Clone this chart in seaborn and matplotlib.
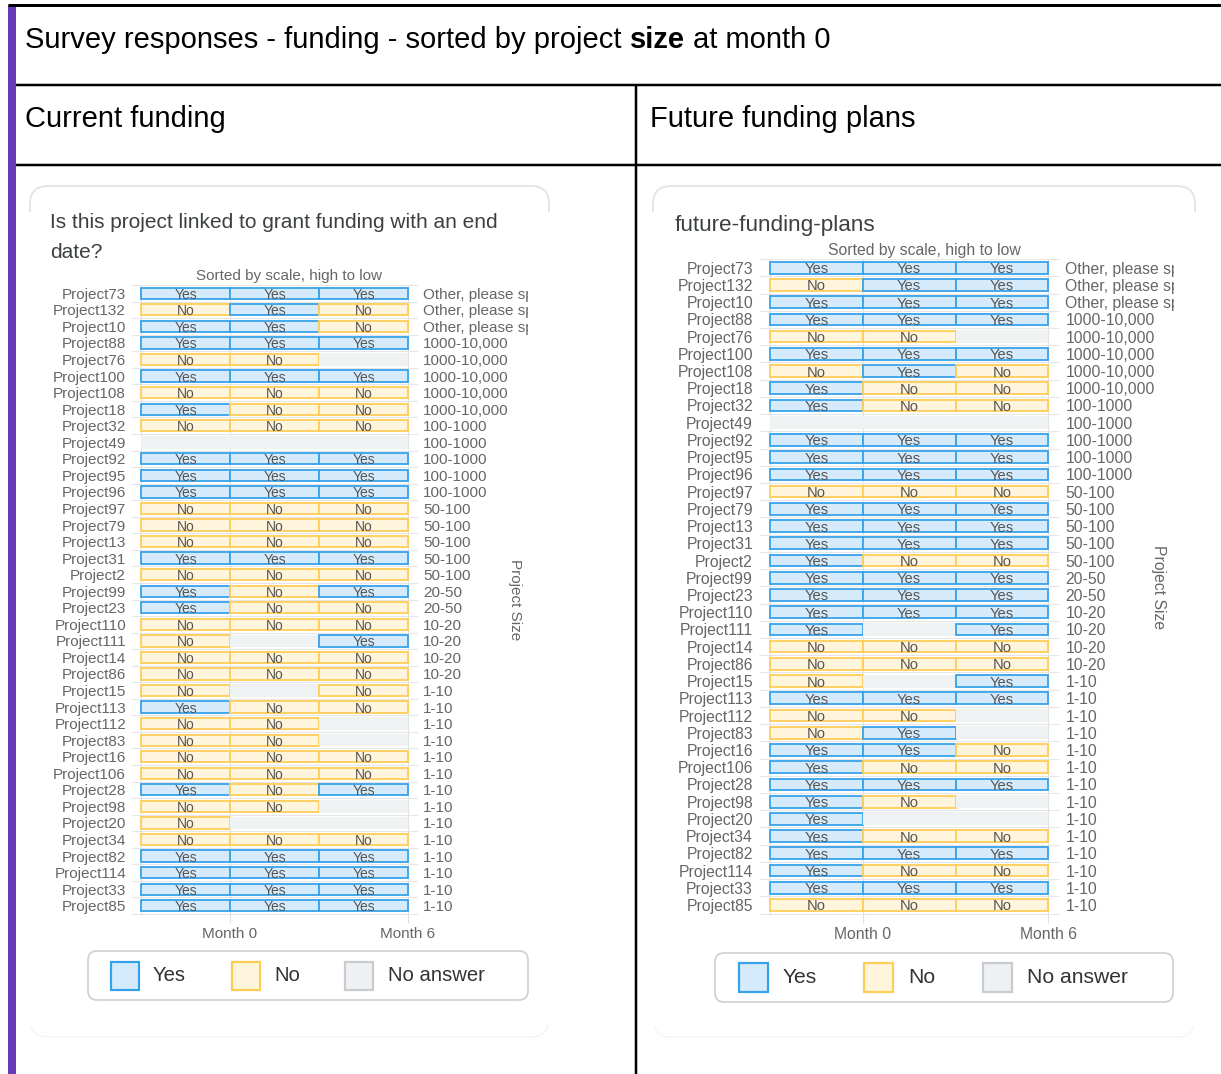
import numpy as np
import pandas as pd
import matplotlib
matplotlib.use("Agg")
import matplotlib.pyplot as plt
import seaborn as sns
from matplotlib.patches import Rectangle, FancyBboxPatch
from matplotlib.transforms import Bbox, TransformedBbox

# ---------------- data ----------------
projects = ["Project73", "Project132", "Project10", "Project88", "Project76", "Project100",
            "Project108", "Project18", "Project32", "Project49", "Project92", "Project95",
            "Project96", "Project97", "Project79", "Project13", "Project31", "Project2",
            "Project99", "Project23", "Project110", "Project111", "Project14", "Project86",
            "Project15", "Project113", "Project112", "Project83", "Project16", "Project106",
            "Project28", "Project98", "Project20", "Project34", "Project82", "Project114",
            "Project33", "Project85"]

project_sizes = ["Other, please specify", "Other, please specify", "Other, please specify",
                 "1000-10,000", "1000-10,000", "1000-10,000", "1000-10,000", "1000-10,000",
                 "100-1000", "100-1000", "100-1000", "100-1000", "100-1000",
                 "50-100", "50-100", "50-100", "50-100", "50-100",
                 "20-50", "20-50",
                 "10-20", "10-20", "10-20", "10-20",
                 "1-10", "1-10", "1-10", "1-10", "1-10", "1-10", "1-10", "1-10", "1-10",
                 "1-10", "1-10", "1-10", "1-10", "1-10"]

# Y = Yes, N = No, - = No answer
current_col1 = ["Y", "N", "Y", "Y", "N", "Y", "N", "Y", "N", "-", "Y", "Y", "Y", "N", "N", "N", "Y", "N", "Y",
                "Y", "N", "N", "N", "N", "N", "Y", "N", "N", "N", "N", "Y", "N", "N", "N", "Y", "Y", "Y", "Y"]
current_col2 = ["Y", "Y", "Y", "Y", "N", "Y", "N", "N", "N", "-", "Y", "Y", "Y", "N", "N", "N", "Y", "N", "N",
                "N", "N", "-", "N", "N", "-", "N", "N", "N", "N", "N", "N", "N", "-", "N", "Y", "Y", "Y", "Y"]
current_col3 = ["Y", "N", "N", "Y", "-", "Y", "N", "N", "N", "-", "Y", "Y", "Y", "N", "N", "N", "Y", "N", "Y",
                "N", "N", "Y", "N", "N", "N", "N", "-", "-", "N", "N", "Y", "-", "-", "N", "Y", "Y", "Y", "Y"]

future_col1 = ["Y", "N", "Y", "Y", "N", "Y", "N", "Y", "Y", "-", "Y", "Y", "Y", "N", "Y", "Y", "Y", "Y", "Y",
               "Y", "Y", "Y", "N", "N", "N", "Y", "N", "N", "Y", "Y", "Y", "Y", "Y", "Y", "Y", "Y", "Y", "N"]
future_col2 = ["Y", "Y", "Y", "Y", "N", "Y", "Y", "N", "N", "-", "Y", "Y", "Y", "N", "Y", "Y", "Y", "N", "Y",
               "Y", "Y", "-", "N", "N", "-", "Y", "N", "Y", "Y", "N", "Y", "N", "-", "N", "Y", "N", "Y", "N"]
future_col3 = ["Y", "Y", "Y", "Y", "-", "Y", "N", "N", "N", "-", "Y", "Y", "Y", "N", "Y", "Y", "Y", "N", "Y",
               "Y", "Y", "Y", "N", "N", "Y", "Y", "-", "-", "N", "N", "Y", "-", "-", "N", "Y", "N", "Y", "N"]

answer_labels = {"Y": "Yes", "N": "No", "-": "No answer"}
x_tick_labels = ["Month 0", "Month 6"]

# ---------------- styles ----------------
STYLE = {
    "Y": dict(face="#d5eafa", edge="#36a2eb", h=0.68, lw=1.3),
    "N": dict(face="#fff4dc", edge="#ffcd56", h=0.68, lw=1.3),
    "-": dict(face="#eef2f3", edge="none", h=0.76, lw=0),
}
LEG_STYLE = {
    "Y": dict(face="#d5eafa", edge="#36a2eb"),
    "N": dict(face="#fff4dc", edge="#ffcd56"),
    "-": dict(face="#eef1f3", edge="#c9cbcf"),
}

sns.set_theme(style="white")
plt.rcParams["font.family"] = ["Liberation Sans", "DejaVu Sans"]

W, H = 1221, 1074
fig = plt.figure(figsize=(W / 100, H / 100), dpi=100)
fig.patch.set_facecolor("white")

bg = fig.add_axes([0, 0, 1, 1])
bg.set_xlim(0, W)
bg.set_ylim(H, 0)
bg.axis("off")
bg.set_zorder(0)

PX = 0.72  # points per pixel

# ---------------- document table frame ----------------
bg.add_patch(Rectangle((8, 5), 8, H, facecolor="#673ab7", edgecolor="none"))
bg.plot([8, W], [5, 5], color="black", lw=3 * PX, solid_capstyle="butt")
bg.plot([16, W], [85, 85], color="black", lw=2.5 * PX, solid_capstyle="butt")
bg.plot([16, W], [165, 165], color="black", lw=2.5 * PX, solid_capstyle="butt")
bg.plot([636, 636], [85, H], color="black", lw=2.5 * PX, solid_capstyle="butt")

# title with bold segment
renderer = fig.canvas.get_renderer()
tfs = 21
t1 = bg.text(25, 40, "Survey responses - funding - sorted by project", fontsize=tfs,
             color="black", va="center", ha="left")
w1 = t1.get_window_extent(renderer).width
tmp_a = bg.text(0, 0, "a a", fontsize=tfs)
tmp_b = bg.text(0, 0, "aa", fontsize=tfs)
space_w = tmp_a.get_window_extent(renderer).width - tmp_b.get_window_extent(renderer).width
tmp_a.remove()
tmp_b.remove()
x2 = 25 + w1 + space_w
t2 = bg.text(x2, 40, "size", fontsize=tfs, fontweight="bold", color="black", va="center", ha="left")
w2 = t2.get_window_extent(renderer).width
bg.text(x2 + w2 + space_w, 40, "at month 0", fontsize=tfs, color="black", va="center", ha="left")

bg.text(25, 119, "Current funding", fontsize=tfs, color="black", va="center", ha="left")
bg.text(650, 119, "Future funding plans", fontsize=tfs, color="black", va="center", ha="left")

# cards (only the top rim is visible, as a faint shadow)
for (cx0, cx1) in [(30, 549), (653, 1195)]:
    card = FancyBboxPatch((cx0, 186), cx1 - cx0, 1037 - 186,
                          boxstyle="round,pad=0,rounding_size=18",
                          facecolor="white", edgecolor="#e4e4ea", lw=1.4)
    bg.add_patch(card)
    card.set_clip_box(TransformedBbox(Bbox.from_extents(0, 1 - 212 / H, 1, 1), fig.transFigure))
    bottom_rim = FancyBboxPatch((cx0, 186), cx1 - cx0, 1037 - 186,
                                boxstyle="round,pad=0,rounding_size=18",
                                facecolor="none", edgecolor="#f4f4f6", lw=1.0)
    bg.add_patch(bottom_rim)
    bottom_rim.set_clip_box(TransformedBbox(Bbox.from_extents(0, 0, 1, 1 - 1025 / H), fig.transFigure))

bg.text(50, 222, "Is this project linked to grant funding with an end", fontsize=15,
        color="#3c4043", va="center", ha="left")
bg.text(50, 253, "date?", fontsize=15, color="#3c4043", va="center", ha="left")
bg.text(675, 225, "future-funding-plans", fontsize=16.2, color="#3c4043", va="center", ha="left")


# ---------------- chart panels ----------------
def draw_panel(cols, geo):
    n = len(projects)
    unit = (geo["plot_r"] - geo["plot_l"]) / 3.0
    pad = geo["pad"] / unit
    step = (geo["row_last"] - geo["row_first"]) / (n - 1)
    top = geo["row_first"] - step / 2
    bot = geo["row_last"] + step / 2
    left = geo["plot_l"] - geo["pad"]
    right = geo["plot_r"] + geo["pad"]
    ax = fig.add_axes([left / W, 1 - bot / H, (right - left) / W, (bot - top) / H])
    ax.set_zorder(2)
    ax.patch.set_visible(False)

    for ci, col in enumerate(cols):
        df = pd.DataFrame({"project": projects, "code": col, "w": 1.0})
        for code in ["-", "Y", "N"]:
            sub = df[df["code"] == code]
            if sub.empty:
                continue
            st = STYLE[code]
            sns.barplot(data=sub, x="w", y="project", order=projects, orient="y",
                        width=st["h"], color=st["face"], saturation=1, errorbar=None,
                        left=ci, edgecolor=st["edge"], linewidth=st["lw"], ax=ax, zorder=3)
        for i, c in enumerate(col):
            if c != "-":
                ax.text(ci + 0.5, i, answer_labels[c], ha="center", va="center_baseline",
                        fontsize=geo["cell_fs"], color="#555555", zorder=5)

    ax.hlines(np.arange(-0.5, n, 1.0), -pad, 3 + pad, color="#e6e6e6", lw=0.8,
              zorder=1, clip_on=False)
    ax.vlines([0, 1, 3], -0.5, n - 0.5, color="#e2e2e2", lw=0.8, zorder=1)

    ax.set_xlim(-pad, 3 + pad)
    ax.set_ylim(n - 0.5, -0.5)
    for s in ax.spines.values():
        s.set_visible(False)
    ax.set_xlabel("")
    ax.set_ylabel("")
    ax.set_yticks(range(n))
    ax.set_yticklabels(projects, fontsize=geo["lab_fs"], color="#666666")
    ax.tick_params(axis="y", length=0, pad=geo["ypad"] * PX)
    ax.set_xticks([1, 3])
    ax.set_xticklabels(x_tick_labels, fontsize=geo["lab_fs"], color="#666666")
    ax.tick_params(axis="x", length=9 * PX, width=0.8, color="#e0e0e0", pad=4 * PX, bottom=True)

    ax2 = ax.twinx()
    ax2.set_ylim(n - 0.5, -0.5)
    ax2.set_yticks(range(n))
    ax2.set_yticklabels(project_sizes, fontsize=geo["lab_fs"], color="#666666")
    ax2.tick_params(axis="y", length=0, pad=geo["ypad"] * PX)
    for s in ax2.spines.values():
        s.set_visible(False)
    clip = TransformedBbox(Bbox.from_extents(0, 0, geo["clip_x"] / W, 1), fig.transFigure)
    for lbl in ax2.get_yticklabels():
        lbl.set_clip_box(clip)
        lbl.set_clip_on(True)
    ax2.set_ylabel("Project Size", rotation=270, fontsize=geo["lab_fs"], color="#666666", va="center")
    ax2.yaxis.set_label_coords((geo["ps_x"] - left) / (right - left), (bot - geo["ps_y"]) / (bot - top))

    bg.text(geo["sub_x"], geo["sub_y"], "Sorted by scale, high to low", fontsize=geo["lab_fs"],
            color="#666666", ha="center", va="center")
    return ax


draw_panel([current_col1, current_col2, current_col3],
           dict(plot_l=141, plot_r=408, pad=10, row_first=293.3, row_last=905.7,
                cell_fs=10, lab_fs=11, ypad=5, clip_x=528, ps_x=515, ps_y=600,
                sub_x=289, sub_y=276))
draw_panel([future_col1, future_col2, future_col3],
           dict(plot_l=770, plot_r=1048.4, pad=11, row_first=267.7, row_last=905,
                cell_fs=10.6, lab_fs=11.3, ypad=6, clip_x=1174, ps_x=1158, ps_y=587,
                sub_x=924, sub_y=250))


# ---------------- legends ----------------
def draw_legend(box, squares, labels_x, size, text_y, fs):
    x0, y0, x1, y1 = box
    bg.add_patch(FancyBboxPatch((x0, y0), x1 - x0, y1 - y0,
                                boxstyle="round,pad=0,rounding_size=9",
                                facecolor="white", edgecolor="#cfcfcf", lw=1.2))
    for code, (sx, sy), lx in zip(["Y", "N", "-"], squares, labels_x):
        st = LEG_STYLE[code]
        bg.add_patch(Rectangle((sx + 1, sy + 1), size - 2, size - 2, facecolor=st["face"],
                               edgecolor=st["edge"], lw=2.2 * PX))
        bg.text(lx, text_y, answer_labels[code], fontsize=fs, color="#333333",
                ha="left", va="center")


draw_legend((88, 951, 528, 1000), [(110, 961), (231, 961), (344, 961)], [153, 274, 388], 30, 975.5, 14.6)
draw_legend((715, 953, 1173, 1002), [(738, 962), (863, 962), (982, 962)], [783, 908, 1027], 31, 977.5, 15.2)

fig.savefig("out.png", dpi=100)
